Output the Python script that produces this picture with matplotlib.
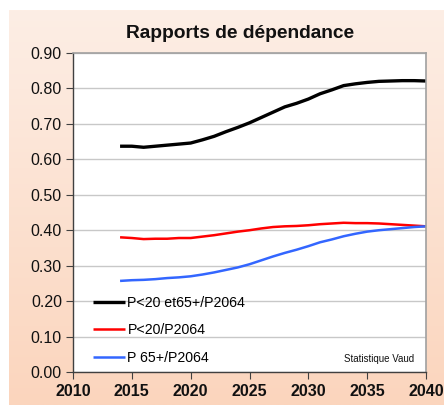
import numpy as np
import matplotlib
matplotlib.use('Agg')
import matplotlib.pyplot as plt
from matplotlib.colors import LinearSegmentedColormap

plt.rcParams['font.family'] = ['Liberation Sans', 'DejaVu Sans']

# Rapports de dépendance, projections annuelles
years = list(range(2014, 2041))
total = [0.637, 0.637, 0.634, 0.637, 0.640, 0.643, 0.646, 0.655, 0.665, 0.678,
         0.690, 0.703, 0.718, 0.733, 0.748, 0.758, 0.770, 0.785, 0.796, 0.808,
         0.813, 0.817, 0.820, 0.821, 0.822, 0.822, 0.821]
jeunes = [0.380, 0.378, 0.375, 0.376, 0.376, 0.378, 0.378, 0.382, 0.386, 0.391,
          0.396, 0.400, 0.405, 0.409, 0.411, 0.412, 0.414, 0.417, 0.419, 0.421,
          0.420, 0.420, 0.419, 0.417, 0.415, 0.413, 0.411]
agees = [0.257, 0.259, 0.260, 0.262, 0.265, 0.267, 0.270, 0.275, 0.281, 0.288,
         0.295, 0.304, 0.315, 0.326, 0.336, 0.345, 0.355, 0.366, 0.374, 0.383,
         0.390, 0.396, 0.400, 0.403, 0.406, 0.409, 0.411]

labels = ['P<20 et65+/P2064', 'P<20/P2064', 'P 65+/P2064']
colors = ['black', '#ff0000', '#3366ff']
widths = [2.4, 1.8, 1.8]

W, H = 444, 405
fig = plt.figure(figsize=(W / 100, H / 100), dpi=100)
fig.patch.set_facecolor('white')

# fond dégradé pêche
bg = fig.add_axes([9 / W, 0, 1 - 9 / W, 1 - 10 / H], zorder=0)
grad = np.linspace(0, 1, 256).reshape(-1, 1)
cmap = LinearSegmentedColormap.from_list('peche', ['#fdeee5', '#fbd5bd'])
bg.imshow(grad, aspect='auto', cmap=cmap, extent=[0, 1, 0, 1], origin='upper')
bg.axis('off')

ax = fig.add_axes([73 / W, 1 - 372 / H, (426 - 73) / W, (372 - 53) / H], zorder=1)
ax.set_facecolor('white')

for vals, lab, col, lw in zip([total, jeunes, agees], labels, colors, widths):
    ax.plot(years, vals, color=col, lw=lw, label=lab, solid_capstyle='butt')

ax.set_xlim(2010, 2040)
ax.set_ylim(0, 0.9)
ax.set_xticks(range(2010, 2041, 5))
ax.set_yticks(np.arange(0, 0.91, 0.1))
ax.set_yticklabels([f'{v:.2f}' for v in np.arange(0, 0.91, 0.1)])
ax.yaxis.grid(True, color='#c8c8c8', lw=1)
ax.set_axisbelow(True)

for s in ['left', 'bottom']:
    ax.spines[s].set_color('#404040')
    ax.spines[s].set_linewidth(1)
for s in ['top', 'right']:
    ax.spines[s].set_color('#a0a0a0')
    ax.spines[s].set_linewidth(1.2)

ax.tick_params(axis='y', labelsize=11.5, length=5, color='#404040', pad=3, labelcolor='#111111')
ax.tick_params(axis='x', labelsize=11.5, length=5, color='#404040', pad=4, labelcolor='#111111')
for t in ax.get_xticklabels():
    t.set_fontweight('bold')

ax.legend(loc='lower left', bbox_to_anchor=(0.04, 0.005), frameon=False, fontsize=10.2,
          handlelength=2.3, handletextpad=0.15, labelspacing=0.95, borderaxespad=0)

ax.text(0.965, 0.04, 'Statistique Vaud', transform=ax.transAxes, ha='right',
        va='center', fontsize=7, color='#111111')

fig.text(0.5 + 18 / W, 1 - 34 / H, 'Rapports de dépendance', ha='center', va='center',
         fontsize=13.8, fontweight='bold', color='#111111')

fig.savefig('out.png', dpi=100, facecolor='white')
